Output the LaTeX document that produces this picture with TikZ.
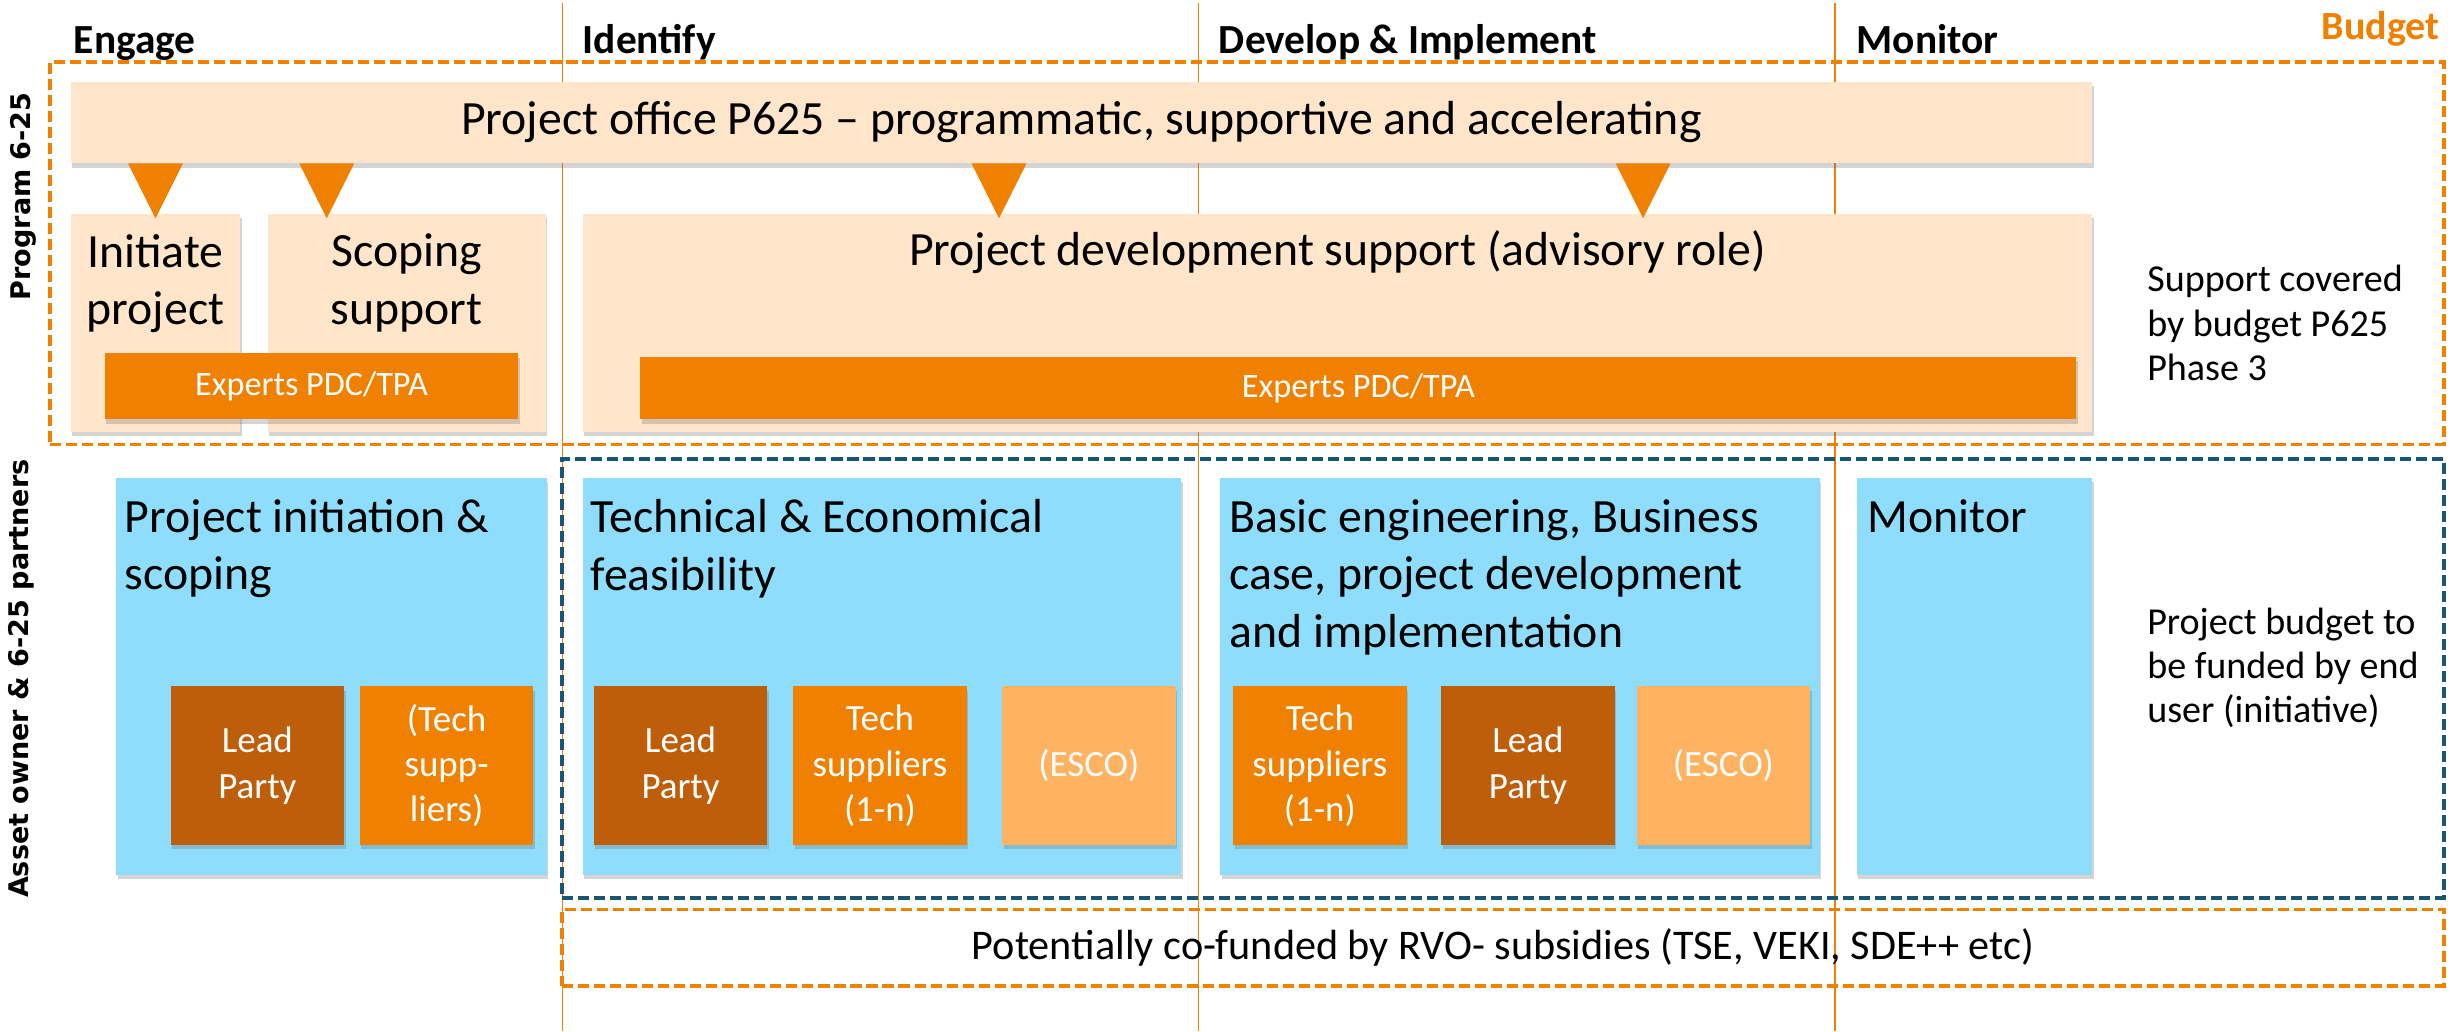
\documentclass[tikz,border=0pt]{standalone}
\usepackage{fontspec}
\setmainfont{Carlito}
\newfontfamily\sidefont{DejaVu Sans}
\usetikzlibrary{positioning,shadows}

\definecolor{peach}{HTML}{FFE6CA}
\definecolor{orangeP}{HTML}{EF8000}
\definecolor{leadbrown}{HTML}{BF5E0A}
\definecolor{escolight}{HTML}{FFB260}
\definecolor{skyblue}{HTML}{8EDDFC}
\definecolor{tealdash}{HTML}{195673}

\begin{document}
\begin{tikzpicture}[
	x = 0.02cm, y = -0.02cm, % pixel grid of the sheet, y pointing down
	inner sep = 0pt,
	outer sep = 0pt,
	dshadow/.style = {drop shadow={shadow xshift=0.6pt, shadow yshift=-1.6pt, opacity=0.28, fill=black!60}},
	P/.style = {anchor=north west, fill=peach, dshadow},   % program 6-25 boxes
	B/.style = {anchor=north west, fill=skyblue, dshadow}, % partner boxes
	E/.style = {anchor=north west, fill=orangeP, text=white, dshadow, font=\fontsize{12.4}{15}\selectfont},
	S/.style = {anchor=north west, minimum width=2.21cm, minimum height=2.02cm, align=center, text=white, dshadow, font=\fontsize{13.4}{16.4}\selectfont},
	T/.style = {align=left, font=\fontsize{17.3}{20.8}\selectfont},
	phase/.style = {anchor=base west, font=\fontsize{15}{18}\selectfont\bfseries},
	note/.style = {anchor=west, align=left, font=\fontsize{13.8}{16}\selectfont},
	row/.style = {rotate=90, font=\sidefont\fontsize{9.8}{12}\selectfont\bfseries},
	budget/.style = {draw=orangeP, line width=1.4pt, dash pattern=on 4pt off 1.8pt},
	partner/.style = {draw=tealdash, line width=1.4pt, dash pattern=on 4pt off 1.8pt},
	gridline/.style = {draw=orangeP, line width=0.6pt},
	]

	\useasboundingbox[fill=white] (0,0) rectangle (1568,656.4);

	% Phases
	\draw[gridline] (358,2) -- (358,656.4);
	\draw[gridline] (763,2) -- (763,656.4);
	\draw[gridline] (1168,2) -- (1168,656.4);
	\node[phase] (engage) at (47,34) {Engage};
	\node[phase] (identify) at (371,34) {Identify};
	\node[phase] (develop) at (776,34) {Develop \& Implement};
	\node[phase] (monitor) at (1182,34) {Monitor};
	\node[phase, anchor=base east, text=orangeP, font=\fontsize{14.5}{17}\selectfont\bfseries] (budget) at (1553,25) {Budget};

	% Budget frames
	\node[budget, anchor=north west, minimum width=30.48cm, minimum height=4.87cm] (program) at (32,39.5) {};
	\node[partner, anchor=north west, minimum width=23.96cm, minimum height=5.59cm] (partners) at (358,292) {};
	\node[budget, anchor=north west, minimum width=23.96cm, minimum height=0.972cm, font=\fontsize{15.3}{18}\selectfont] (cofund) at (358,579) {Potentially co-funded by RVO- subsidies (TSE, VEKI, SDE++ etc)};

	% Program 6-25
	\node[P, minimum width=25.74cm, minimum height=1.04cm, font=\fontsize{17.3}{20.8}\selectfont] (office) at (45,52) {Project office P625 – programmatic, supportive and accelerating};
	\node[P, minimum width=2.16cm, minimum height=2.78cm] (initiate) at (45,136) {};
	\node[P, minimum width=3.54cm, minimum height=2.78cm] (scoping) at (170.5,136) {};
	\node[P, minimum width=19.22cm, minimum height=2.78cm] (devsup) at (371,136) {};
	\node[T, align=center, below = 0.26cm of initiate.north] (initiatetxt) {Initiate\\project};
	\node[T, align=center, below = 0.26cm of scoping.north] (scopingtxt) {Scoping\\support};
	\node[T, below = 0.22cm of devsup.north] (devsuptxt) {Project development support (advisory role)};
	\node[E, minimum width=5.27cm, minimum height=0.84cm] (expertsA) at (66.6,225) {Experts PDC/TPA};
	\node[E, minimum width=18.29cm, minimum height=0.8cm] (expertsB) at (407.6,227) {Experts PDC/TPA};
	% Pointers from the project office
	\fill[orangeP] (81.5,104) -- (116.5,104) -- (99,139) -- cycle;
	\fill[orangeP] (190.5,104) -- (225.5,104) -- (208,139) -- cycle;
	\fill[orangeP] (618.5,104) -- (653.5,104) -- (636,139) -- cycle;
	\fill[orangeP] (1028.5,104) -- (1063.5,104) -- (1046,139) -- cycle;
	\node[note] (covered) at (1367,205.6) {Support covered\\by budget P625\\Phase 3};

	% Asset owner & partners
	\node[B, minimum width=5.48cm, minimum height=5.06cm] (scope) at (74,304) {};
	\node[B, minimum width=7.62cm, minimum height=5.06cm] (feas) at (371,304) {};
	\node[B, minimum width=7.64cm, minimum height=5.06cm] (impl) at (776.6,304) {};
	\node[B, minimum width=3cm, minimum height=5.06cm] (mon) at (1182,304) {};
	\node[T, below right = 0.28cm and 0.11cm of scope.north west] (scopetxt) {Project initiation \&\\scoping};
	\node[T, below right = 0.28cm and 0.1cm of feas.north west] (feastxt) {Technical \& Economical\\feasibility};
	\node[T, below right = 0.28cm and 0.12cm of impl.north west] (impltxt) {Basic engineering, Business\\case, project development\\and implementation};
	\node[T, below right = 0.28cm and 0.14cm of mon.north west] (montxt) {Monitor};
	% Parties
	\node[S, fill=leadbrown] (lead1) at (108.6,437) {Lead\\Party};
	\node[S, fill=orangeP, right = 0.2cm of lead1] (tech1) {(Tech\\supp-\\liers)};
	\node[S, fill=leadbrown] (lead2) at (378,437) {Lead\\Party};
	\node[S, fill=orangeP, right = 0.33cm of lead2] (tech2) {Tech\\suppliers\\(1-n)};
	\node[S, fill=escolight, right = 0.45cm of tech2] (esco2) {(ESCO)};
	\node[S, fill=orangeP] (tech3) at (785,437) {Tech\\suppliers\\(1-n)};
	\node[S, fill=leadbrown, right = 0.44cm of tech3] (lead3) {Lead\\Party};
	\node[S, fill=escolight, right = 0.28cm of lead3] (esco3) {(ESCO)};
	\node[note] (funded) at (1367,425) {Project budget to\\be funded by end\\user (initiative)};

	% Rows
	\node[row] (programrow) at (15,125) {Program 6-25};
	\node[row] (assetrow) at (13.5,432) {Asset owner \& 6-25 partners};

\end{tikzpicture}
\end{document}
